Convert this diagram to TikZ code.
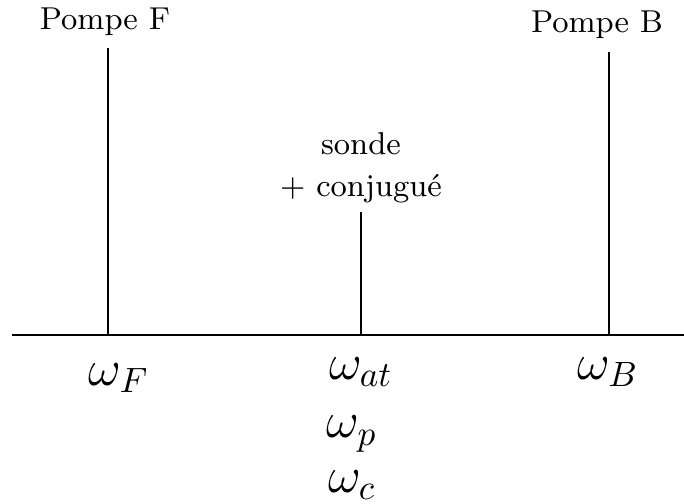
\documentclass[tikz,border=0pt]{standalone}
\usepackage{amsmath,amssymb}
\tikzset{
	raie/.style={line width=0.7pt},
	etiq/.style={font={\small}, inner sep=0pt, align=center},
	freq/.style={font={\Large}, inner sep=0pt},
}
\def\hautAxe{335}

\begin{document}
\begin{tikzpicture}[x=0.01cm, y=-0.01cm]
\useasboundingbox (0,0) rectangle (684,504);
% axe des frequences
\coordinate (gauche) at (12,\hautAxe); \coordinate (droite) at (684,\hautAxe);
\draw[raie] (gauche) -- (droite);
% raies
\coordinate (pF) at (108,\hautAxe); \coordinate (hF) at (108,48);
\coordinate (pS) at (361,\hautAxe); \coordinate (hS) at (361,212);
\coordinate (pB) at (609,\hautAxe); \coordinate (hB) at (609,52);
\draw[raie] (pF) -- (hF);
\draw[raie] (pS) -- (hS);
\draw[raie] (pB) -- (hB);
% etiquettes
\node[etiq] (pompeF) at (105,22) {Pompe F};
\node[etiq] (pompeB) at (597,25) {Pompe B};
\node[etiq] (sonde) at (361,168) {sonde\\[1pt]$+$ conjugu\'e};
\node[freq] (wF) at (119,378) {$\omega_F$};
\node[freq] (wat) at (361,372) {$\omega_{at}$};
\node[freq] (wB) at (608,372) {$\omega_B$};
\node[freq] (wp) at (352,434) {$\omega_p$};
\node[freq] (wc) at (352,485) {$\omega_c$};
\end{tikzpicture}
\end{document}
